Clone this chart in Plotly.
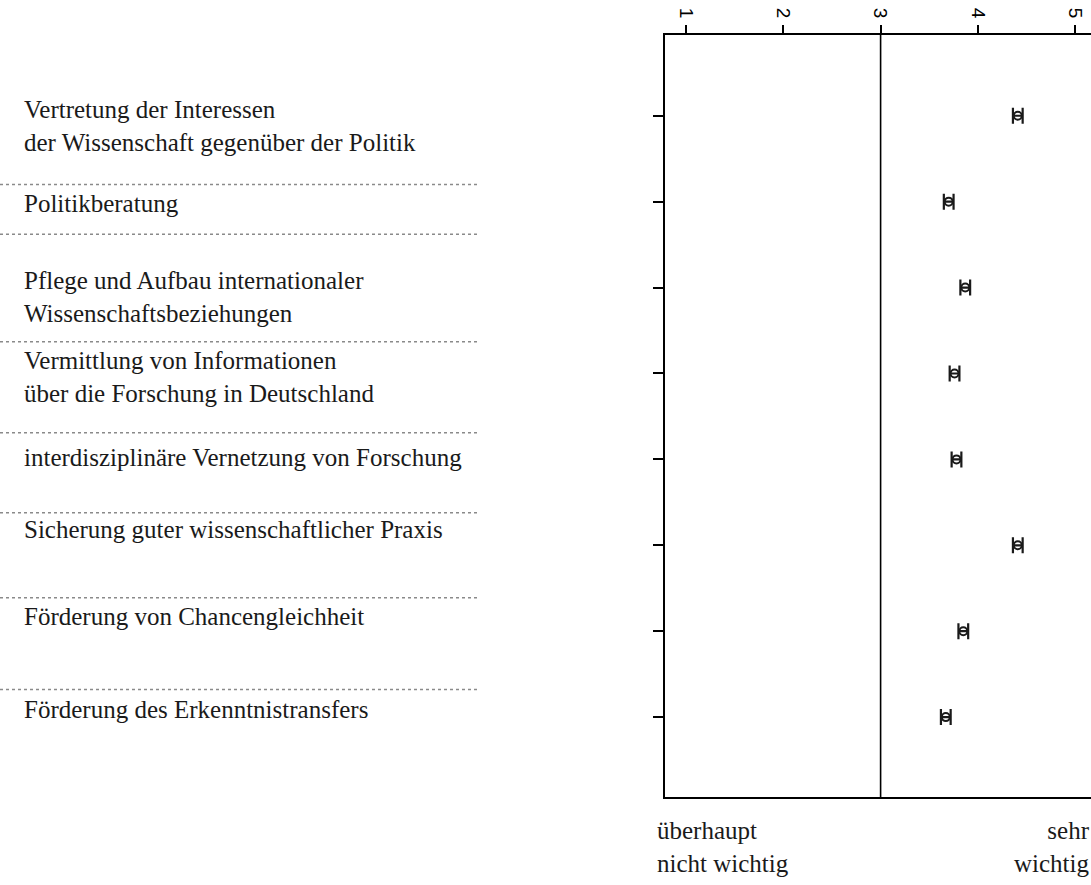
import plotly.graph_objects as go

# items (top to bottom) and their mean ratings on the 1-5 scale
items = [
    "Vertretung der Interessen<br>der Wissenschaft gegenüber der Politik",
    "Politikberatung",
    "Pflege und Aufbau internationaler<br>Wissenschaftsbeziehungen",
    "Vermittlung von Informationen<br>über die Forschung in Deutschland",
    "interdisziplinäre Vernetzung von Forschung",
    "Sicherung guter wissenschaftlicher Praxis",
    "Förderung von Chancengleichheit",
    "Förderung des Erkenntnistransfers",
]
means = [4.41, 3.70, 3.87, 3.76, 3.78, 4.41, 3.85, 3.67]
ci_half = [0.05, 0.05, 0.05, 0.05, 0.05, 0.05, 0.05, 0.05]
scale_ticks = [1, 2, 3, 4, 5]
low_label = "überhaupt<br>nicht wichtig"
high_label = "sehr<br>wichtig"

# layout bits (pixels)
W, H = 1091, 885
L, R, T, B = 665, 0, 35, 88
plot_w = W - L - R
label_shift = [-10, -2, -9, -4, 2, 16, 15, 8]
separators = [0.80, 1.38, 2.63, 3.69, 4.62, 5.61, 6.68]
serif = "Liberation Serif"
ink = "#1a1a1a"

pos = list(range(len(items)))

fig = go.Figure()
fig.add_trace(go.Scatter(
    x=means, y=pos, mode="markers",
    marker=dict(symbol="circle-open", size=8, color=ink, line=dict(width=2)),
    error_x=dict(type="data", array=ci_half, color=ink, thickness=2.2, width=8),
    showlegend=False, hoverinfo="x"))

# reference line at the scale midpoint
fig.add_shape(type="line", xref="x", yref="paper", x0=3, x1=3, y0=0, y1=1,
              line=dict(color="black", width=1.6))

for i, txt in enumerate(items):
    fig.add_annotation(text=txt, xref="paper", yref="y", x=(22 - L) / plot_w, y=pos[i],
                       xanchor="left", yanchor="middle", align="left", showarrow=False,
                       yshift=label_shift[i], font=dict(family=serif, size=25, color=ink))

for s in separators:
    fig.add_shape(type="line", xref="paper", yref="y",
                  x0=(0 - L) / plot_w, x1=(478 - L) / plot_w,
                  y0=s, y1=s, line=dict(color="#8a8a8a", width=1.5, dash="dot"))

fig.add_annotation(text=low_label, xref="paper", yref="paper", x=(655 - L) / plot_w, y=0,
                   yshift=-18, xanchor="left", yanchor="top", align="left", showarrow=False,
                   font=dict(family=serif, size=25, color=ink))
fig.add_annotation(text=high_label, xref="paper", yref="paper", x=(1092 - L) / plot_w, y=0,
                   yshift=-18, xanchor="right", yanchor="top", align="right", showarrow=False,
                   font=dict(family=serif, size=25, color=ink))

px_per_unit = 97.3
x_lo = 1 - (686 - L) / px_per_unit
x_hi = x_lo + plot_w / px_per_unit

fig.update_layout(
    width=W, height=H,
    margin=dict(l=L, r=R, t=T, b=B),
    plot_bgcolor="white", paper_bgcolor="white",
    xaxis=dict(side="top", range=[x_lo, x_hi], tickvals=scale_ticks, ticks="outside",
               ticklen=8, tickwidth=2, tickcolor="black", tickangle=90,
               showline=True, mirror=True, linecolor="black", linewidth=2,
               showgrid=False, zeroline=False,
               tickfont=dict(family="Liberation Sans", size=19, color="black")),
    yaxis=dict(range=[7.93, -0.94], tickvals=pos, showticklabels=False, ticks="outside",
               ticklen=10, tickwidth=2, tickcolor="black",
               showline=True, linecolor="black", linewidth=2,
               showgrid=False, zeroline=False),
)

# drop the default page margin so the figure fills the window exactly
fig.write_html("out.html", config={"displayModeBar": False},
               post_script="document.body.style.margin = '0';")
